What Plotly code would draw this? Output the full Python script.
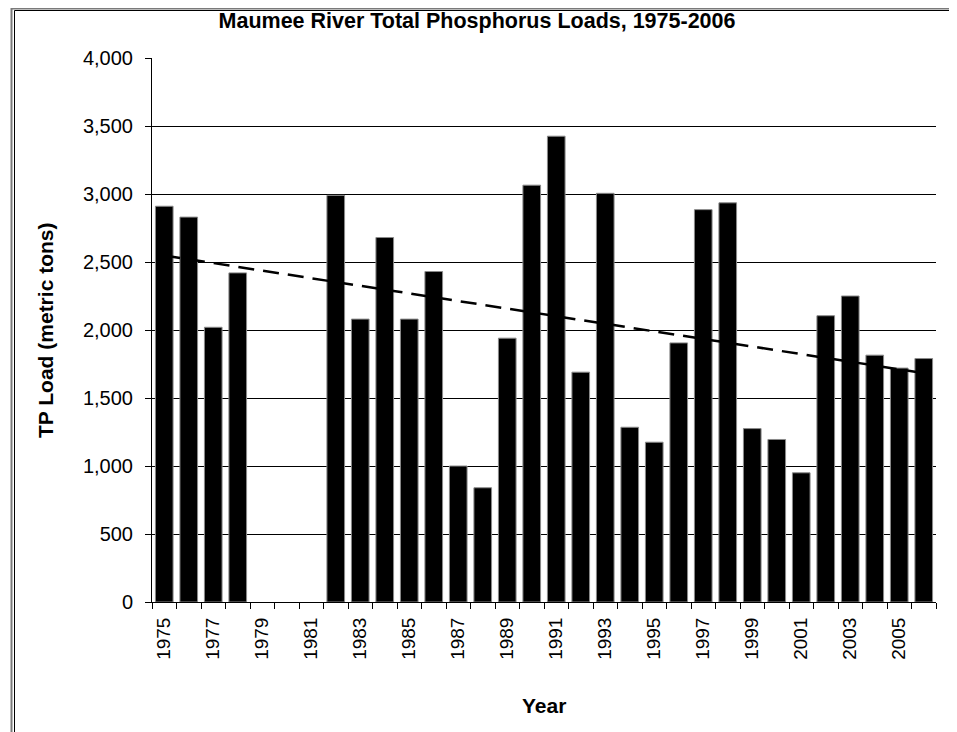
import plotly.graph_objects as go

# ---- data ----
years = list(range(1975, 2007))
tp_load = [2910, 2830, 2020, 2420, None, None, None, 2990, 2080, 2680,
           2080, 2430, 1000, 840, 1940, 3065, 3425, 1690, 3005, 1285,
           1175, 1905, 2885, 2935, 1275, 1195, 950, 2105, 2250, 1815,
           1720, 1790]
trend_years = [1975, 2006]
trend_values = [2548, 1683]
tick_years = list(range(1975, 2006, 2))
tick_labels = [str(y) for y in tick_years]
y_ticks = [0, 500, 1000, 1500, 2000, 2500, 3000, 3500, 4000]
grid_vals = [500, 1000, 1500, 2000, 2500, 3000, 3500]

OFF = 8                      # page body margin offset
W, H = 957 - OFF, 732 - OFF
# plot area in page pixels
L, R, T, B = 152, 936, 58, 602
FONT = "Liberation Sans, Arial, sans-serif"


def px(xp):
    return (xp - L) / (R - L)


def py(yp):
    return (B - yp) / (B - T)


fig = go.Figure()
fig.add_trace(go.Bar(
    x=years, y=tp_load,
    marker=dict(color="black", line=dict(color="#8a8a8a", width=1)),
    showlegend=False, hoverinfo="x+y"))
fig.add_trace(go.Scatter(
    x=trend_years, y=trend_values, mode="lines",
    line=dict(color="black", width=2.5, dash="16px,9px"),
    showlegend=False, hoverinfo="skip"))

fig.update_layout(
    width=W, height=H,
    margin=dict(l=L - OFF, r=957 - R, t=T - OFF, b=732 - B, pad=0),
    paper_bgcolor="white", plot_bgcolor="white",
    bargap=0.28,
    font=dict(family=FONT, color="black", size=19),
    title=dict(text="<b>Maumee River Total Phosphorus Loads, 1975-2006</b>",
               x=(477 - OFF) / W, xref="container", xanchor="center",
               y=1 - (20 - OFF) / H, yref="container", yanchor="middle",
               font=dict(family=FONT, size=21.5, color="black")),
)

fig.update_xaxes(
    range=[1974.5, 2006.5],
    tickmode="array", tickvals=tick_years, ticktext=tick_labels,
    tickangle=-90, ticks="", showgrid=False, zeroline=False,
    showline=True, linecolor="black", linewidth=1,
    ticklabelstandoff=7,
    tickfont=dict(family=FONT, size=19, color="black"),
    minor=dict(tick0=1974.5, dtick=1, ticks="outside", ticklen=6,
               tickcolor="black", tickwidth=1, showgrid=False),
)
fig.update_yaxes(
    range=[0, 4000],
    tickmode="array", tickvals=y_ticks,
    tickformat=",", ticks="outside", ticklen=6, tickcolor="black",
    showgrid=False, zeroline=False,
    showline=True, linecolor="black", linewidth=1,
    ticklabelstandoff=8,
    tickfont=dict(family=FONT, size=20, color="black"),
    minor=dict(tickmode="array", tickvals=grid_vals, showgrid=True,
               gridcolor="black", gridwidth=1, ticks=""),
)

fig.add_annotation(text="<b>TP Load (metric tons)</b>", textangle=-90,
                   x=px(45), y=py(331), xref="paper", yref="paper",
                   xanchor="center", yanchor="middle", showarrow=False,
                   font=dict(family=FONT, size=21, color="black"))
fig.add_annotation(text="<b>Year</b>",
                   x=px(544), y=py(705), xref="paper", yref="paper",
                   xanchor="center", yanchor="middle", showarrow=False,
                   font=dict(family=FONT, size=21, color="black"))

# outer double frame
fig.add_shape(type="rect", xref="paper", yref="paper",
              x0=px(11.5), y0=py(8.5), x1=px(1100), y1=py(900),
              line=dict(color="#7a7a7a", width=2), fillcolor="rgba(0,0,0,0)")
fig.add_shape(type="rect", xref="paper", yref="paper",
              x0=px(14.5), y0=py(10.5), x1=px(1100), y1=py(900),
              line=dict(color="black", width=1), fillcolor="rgba(0,0,0,0)")

fig.write_html("out.html")
